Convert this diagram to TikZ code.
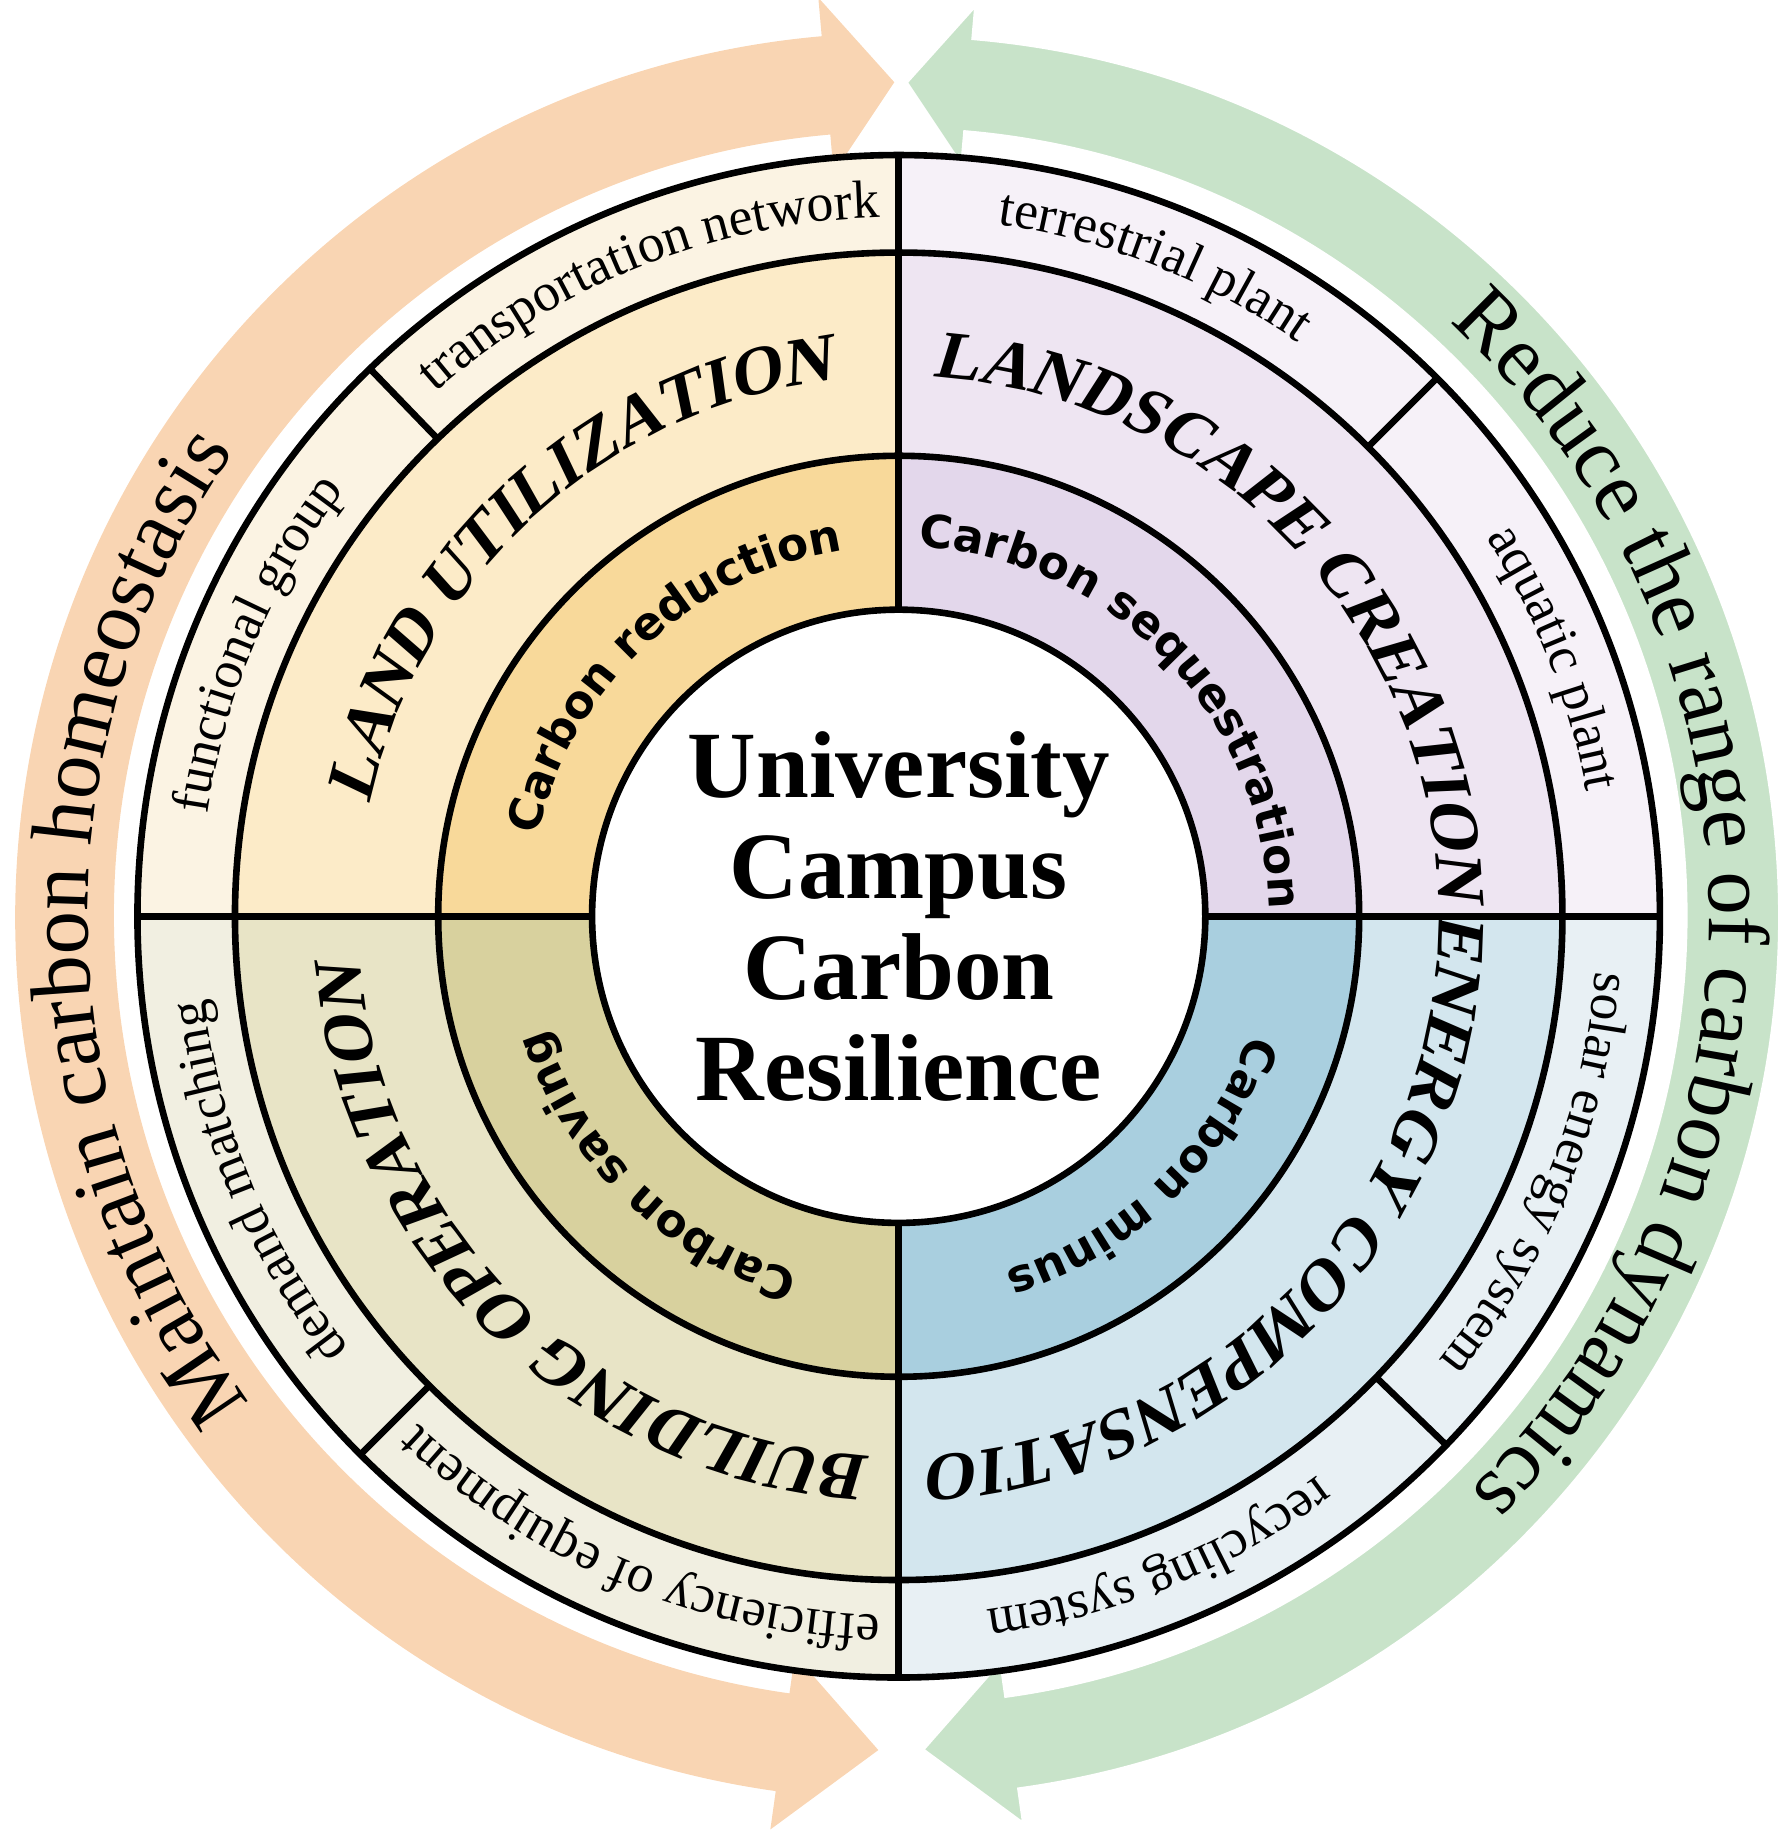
\documentclass[tikz,border=0pt]{standalone}
\usepackage{fontspec}
\setmainfont{Liberation Serif}
\newfontfamily\sansbold{DejaVu Sans}
\newfontfamily\capsface{Liberation Serif Bold}[FakeSlant=0.2]
\usetikzlibrary{decorations.text}

\definecolor{tlOut}{HTML}{FBF3E3}
\definecolor{tlMid}{HTML}{FCEBC8}
\definecolor{tlIn}{HTML}{F8D99A}
\definecolor{trOut}{HTML}{F6F1F8}
\definecolor{trMid}{HTML}{EEE5F2}
\definecolor{trIn}{HTML}{E3D7EB}
\definecolor{brOut}{HTML}{E8F0F4}
\definecolor{brMid}{HTML}{D3E6EE}
\definecolor{brIn}{HTML}{A9CFDF}
\definecolor{blOut}{HTML}{F1EFE1}
\definecolor{blMid}{HTML}{E8E4C6}
\definecolor{blIn}{HTML}{D8D19E}
\definecolor{arrOrange}{HTML}{F9D5B3}
\definecolor{arrGreen}{HTML}{C8E3C9}

\newcommand{\ringsector}[5]{% fill, start, end, inner r, outer r
  \fill[#1] (#2:#4) arc[start angle=#2,end angle=#3,radius=#4]
    -- (#3:#5) arc[start angle=#3,end angle=#2,radius=#5] -- cycle;}
\newcommand{\arctext}[5]{% font, start, end, radius, text
  \path[decorate,decoration={text along path,text align=center,
    text={|#1|#5}}] (#2:#4) arc[start angle=#2,end angle=#3,radius=#4];}

\newcommand{\outerfont}{\fontsize{13}{15}\selectfont}
\newcommand{\midfont}{\capsface\fontsize{16.5}{18}\selectfont}
\newcommand{\innerfont}{\sansbold\fontsize{11}{13}\selectfont\bfseries}
\newcommand{\arrowfont}{\fontsize{21}{23}\selectfont}

\begin{document}
\begin{tikzpicture}
  \useasboundingbox (0,0) rectangle (15.25,15.68);
  \begin{scope}[shift={(7.65,7.88)}]
    % outer arrows
    \fill[arrOrange] (262:7.52) arc[start angle=262,end angle=95,radius=7.52]
      -- (95:7.85) -- (90.3:7.10) -- (95:6.35) -- (95:6.68)
      arc[start angle=95,end angle=262,radius=6.68]
      -- (262:6.35) -- (268.6:7.10) -- (262:7.85) -- cycle;
    \filldraw[arrGreen,draw=white,line width=2pt] (-82:7.52) arc[start angle=-82,end angle=85,radius=7.52]
      -- (85:7.85) -- (89.7:7.10) -- (85:6.35) -- (85:6.68)
      arc[start angle=85,end angle=-82,radius=6.68]
      -- (-82:6.35) -- (-88.6:7.10) -- (-82:7.85) -- cycle;
    \arctext{\arrowfont}{216}{146}{6.90}{Maintain carbon homeostasis}
    \arctext{\arrowfont}{58}{-56}{6.90}{Reduce the range of carbon dynamics}

    % quadrants
    \ringsector{tlOut}{90}{180}{5.65}{6.48}
    \ringsector{tlMid}{90}{180}{3.92}{5.65}
    \ringsector{tlIn}{90}{180}{2.61}{3.92}
    \ringsector{trOut}{0}{90}{5.65}{6.48}
    \ringsector{trMid}{0}{90}{3.92}{5.65}
    \ringsector{trIn}{0}{90}{2.61}{3.92}
    \ringsector{brOut}{-90}{0}{5.65}{6.48}
    \ringsector{brMid}{-90}{0}{3.92}{5.65}
    \ringsector{brIn}{-90}{0}{2.61}{3.92}
    \ringsector{blOut}{180}{270}{5.65}{6.48}
    \ringsector{blMid}{180}{270}{3.92}{5.65}
    \ringsector{blIn}{180}{270}{2.61}{3.92}

    % rings and dividers
    \foreach \r in {3.92,5.65,6.48}
      \draw[line width=1.6pt] (0,0) circle[radius=\r];
    \foreach \a in {0,90,180,270}
      \draw[line width=1.6pt] (\a:2.61) -- (\a:6.48);
    \foreach \a in {134,45,-44,-135}
      \draw[line width=1.6pt] (\a:5.65) -- (\a:6.48);
    \node[circle,draw,line width=1.6pt,fill=white,minimum size=5.22cm,
      align=center,font=\fontsize{23}{24.5}\selectfont\bfseries] (campus)
      at (0,0) {University\\Campus\\Carbon\\Resilience};

    % outer ring texts
    \arctext{\outerfont}{131}{92}{5.95}{transportation network}
    \arctext{\outerfont}{87}{50}{5.95}{terrestrial plant}
    \arctext{\outerfont}{40}{3}{5.95}{aquatic plant}
    \arctext{\outerfont}{-2}{-42}{5.95}{solar energy system}
    \arctext{\outerfont}{-48}{-88}{5.95}{recycling system}
    \arctext{\outerfont}{-91}{-134}{5.95}{efficiency of equipment}
    \arctext{\outerfont}{-138}{-177}{5.95}{demand matching}
    \arctext{\outerfont}{177}{137}{5.95}{functional group}

    % middle ring texts
    \arctext{\midfont}{168}{97}{4.60}{LAND UTILIZATION}
    \arctext{\midfont}{84}{4}{4.60}{LANDSCAPE CREATION}
    \arctext{\midfont}{-4}{-88}{4.60}{ENERGY COMPENSATION}
    \arctext{\midfont}{-92}{-176}{4.60}{BUILDING OPERATION}

    % inner ring texts
    \arctext{\innerfont}{168}{98}{3.15}{Carbon reduction}
    \arctext{\innerfont}{87}{1}{3.15}{Carbon sequestration}
    \arctext{\innerfont}{-8}{-84}{3.15}{Carbon minus}
    \arctext{\innerfont}{-96}{-172}{3.15}{Carbon saving}
  \end{scope}
\end{tikzpicture}
\end{document}
